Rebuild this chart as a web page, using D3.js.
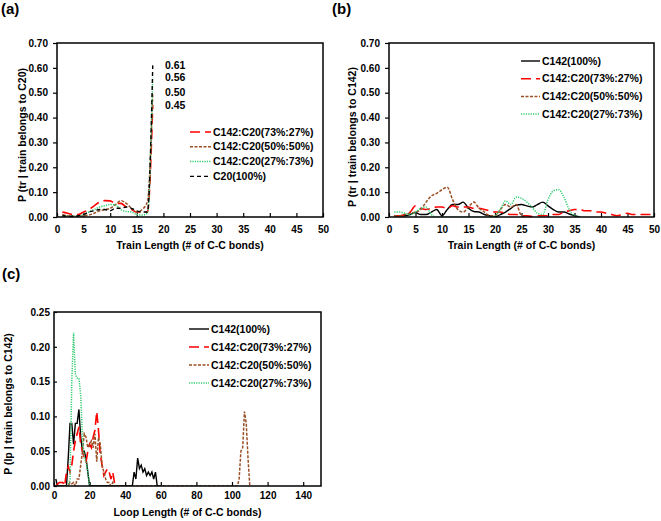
<!DOCTYPE html>
<html><head><meta charset="utf-8">
<script src="https://cdn.jsdelivr.net/npm/d3@7"></script>
<style>
body{margin:0;background:#fff;}
text{font-family:"Liberation Sans",Arial,sans-serif;font-weight:bold;}
</style></head>
<body>
<svg id="chart" width="661" height="521"></svg>
<script>
// ---------- Panel (a) data ----------
const xA = [1,2,3,4,5,6,7,8,9,10,11,12,13,14,15,16,17,18];
const red73A   = [0.02,0.015,0.01,0.01,0.02,0.03,0.045,0.06,0.066,0.065,0.055,0.055,0.04,0.03,0.02,0.02,0.02,0.45];
const brown50A = [0.01,0.005,0.003,0.002,0.005,0.008,0.015,0.025,0.03,0.035,0.05,0.066,0.055,0.035,0.02,0.03,0.062,0.50];
const green27A = [0.005,0.003,0.003,0.005,0.01,0.02,0.03,0.04,0.045,0.05,0.048,0.03,0.022,0.02,0.01,0.008,0.015,0.56];
const black20A = [0.005,0.003,0.003,0.005,0.01,0.02,0.025,0.03,0.03,0.025,0.035,0.035,0.04,0.035,0.025,0.02,0.02,0.61];
const peakLabelsA = [0.61,0.56,0.50,0.45];

// ---------- Panel (b) data ----------
const xB50 = d3.range(1,51);
const black142B = [0.005,0.005,0.005,0.01,0.018,0.01,0.01,0.02,0.03,0.005,
                   0.03,0.05,0.05,0.06,0.035,0.022,0.02,0.01,0.005,0.0,
                   0.01,0.02,0.035,0.048,0.05,0.045,0.04,0.05,0.06,0.045,
                   0.03,0.02,0.02,0.012,0.005,0.0];
const red73B = [0.005,0.005,0.01,0.02,0.045,0.035,0.03,0.035,0.04,0.04,
                0.035,0.045,0.04,0.04,0.04,0.035,0.035,0.03,0.025,0.02,
                0.02,0.015,0.01,0.01,0.005,0.005,0.002,0.005,0.005,0.005,
                0.01,0.01,0.02,0.025,0.03,0.03,0.025,0.025,0.02,0.02,
                0.015,0.01,0.005,0.01,0.015,0.01,0.01,0.01,0.01,0.01];
const brown50B = [0.005,0.005,0.01,0.015,0.02,0.03,0.06,0.085,0.095,0.11,
                  0.12,0.07,0.03,0.02,0.04,0.06,0.035,0.02,0.005,0.005,
                  0.03,0.05,0.04,0.05,0.005,0.0];
const green27B = [0.02,0.02,0.015,0.01,0.02,0.035,0.04,0.01,0.0,0.0,
                  0,0,0,0,0,0,0,0,0,0.005,
                  0.03,0.065,0.05,0.08,0.075,0.06,0.04,0.015,0.01,0.07,
                  0.105,0.11,0.08,0.03,0.005,0.0];

// ---------- Panel (c) data ----------
const blackCx = [1,2,7,8,9,10,11,12,13,14,15,16,17,18,19,20,44,45,46,47,48,49,50,51,52,53,54,55,56,57,58,60];
const blackCy = [0.01,0,0,0.04,0.09,0.09,0.06,0.09,0.09,0.11,0.07,0.05,0.05,0.04,0.02,0,0,0.02,0.01,0.04,0.025,0.03,0.02,0.025,0.015,0.02,0.015,0.02,0.01,0.02,0,0];
const redCx = [1,3,5,6,7,8,9,10,11,12,13,14,15,16,17,18,19,20,21,22,23,24,25,26,27,28,29,30,31,32,33,34,35];
const redCy = [0,0.005,0.005,0,0.02,0.028,0.02,0.03,0.05,0.065,0.075,0.085,0.06,0.05,0.04,0.035,0.05,0.06,0.055,0.07,0.08,0.107,0.08,0.045,0.03,0.015,0.02,0.025,0.02,0.01,0.02,0.005,0];
const brownCx = [1,8,9,10,11,12,13,14,15,16,17,18,19,20,21,22,23,24,25,26,27,28,29,30,31,32,33,34,35,103,104,105,106,107,108,109,110];
const brownCy = [0,0,0.005,0.003,0.005,0,0.01,0.01,0.03,0.05,0.075,0.07,0.055,0.06,0.065,0.055,0.075,0.035,0.07,0.06,0.03,0.02,0.01,0.005,0.005,0,0.005,0,0,0,0.01,0.05,0.055,0.107,0.09,0.04,0];
const greenCx = [1,8,9,10,11,12,13,14,15,16,17,18,19,20];
const greenCy = [0,0,0.01,0.15,0.22,0.16,0.155,0.155,0.13,0.07,0.04,0.035,0.02,0];

// ---------- tick labels ----------
const ticksTrain = [0,5,10,15,20,25,30,35,40,45,50];
const ticksPA = [0,0.1,0.2,0.3,0.4,0.5,0.6,0.7];
const ticksLoop = [0,20,40,60,80,100,120,140];
const ticksPC = [0,0.05,0.1,0.15,0.2,0.25];

// ---------- styles ----------
const ST = {
  black:  {color:"#000", dash:null, w:1.4},
  blackD: {color:"#000", dash:"4,3", w:1.4},
  red:    {color:"#ff0000", dash:"10,5", w:1.6},
  brown:  {color:"#9a4f24", dash:"3,1.5", w:1.5},
  green:  {color:"#2fcc6e", dash:"1.2,1.2", w:1.5}
};

const svg = d3.select("#chart");
const FS = 10.5;

function panel(cfg){
  const g = svg.append("g");
  const x = d3.scaleLinear().domain(cfg.xDomain).range([cfg.l, cfg.r]);
  const y = d3.scaleLinear().domain(cfg.yDomain).range([cfg.b, cfg.t]);

  const xa = d3.axisBottom(x).tickValues(cfg.xTicks).tickSizeInner(-4).tickSizeOuter(0).tickPadding(cfg.xPad).tickFormat(d3.format("d"));
  const ya = d3.axisLeft(y).tickValues(cfg.yTicks).tickSizeInner(cfg.yTick).tickSizeOuter(0).tickPadding(cfg.yPad).tickFormat(d3.format(".2f"));
  const gx = g.append("g").attr("transform",`translate(0,${cfg.b})`).call(xa);
  const gy = g.append("g").attr("transform",`translate(${cfg.l},0)`).call(ya);
  [gx,gy].forEach(a=>{
    a.select(".domain").remove();
    a.selectAll("line").attr("stroke","#000").attr("stroke-width",1.2);
    a.selectAll("text").attr("font-size",10).attr("font-weight","bold").attr("fill","#000")
      .attr("font-family","'Liberation Sans',Arial,sans-serif");
  });

  const clip = "clip"+cfg.id;
  g.append("clipPath").attr("id",clip).append("rect")
    .attr("x",cfg.l).attr("y",cfg.t-2).attr("width",cfg.r-cfg.l).attr("height",cfg.b-cfg.t+2);
  const line = d3.line().x(d=>x(d[0])).y(d=>y(d[1])).curve(cfg.curve);
  cfg.series.forEach(s=>{
    const pts = s.x.map((xv,i)=>[xv,s.y[i]]);
    g.append("path").datum(pts).attr("d",line).attr("fill","none")
      .attr("stroke",s.st.color).attr("stroke-width",s.st.w)
      .attr("stroke-dasharray",s.st.dash).attr("clip-path",`url(#${clip})`);
  });

  g.append("rect").attr("x",cfg.l).attr("y",cfg.t).attr("width",cfg.r-cfg.l).attr("height",cfg.b-cfg.t)
    .attr("fill","none").attr("stroke","#000").attr("stroke-width",1.5);

  cfg.legend.forEach((s,i)=>{
    const yy = cfg.leg.y + i*cfg.leg.dy;
    g.append("line").attr("x1",cfg.leg.x1).attr("x2",cfg.leg.x2).attr("y1",yy).attr("y2",yy)
      .attr("stroke",s.st.color).attr("stroke-width",s.st.w).attr("stroke-dasharray",s.st.dash);
    g.append("text").attr("x",cfg.leg.x2+2).attr("y",yy).attr("dy","0.35em")
      .attr("font-size",FS).text(s.name);
  });

  g.append("text").attr("x",(cfg.l+cfg.r)/2).attr("y",cfg.xTitleY).attr("dy","0.35em")
    .attr("text-anchor","middle").attr("font-size",FS).text(cfg.xTitle);
  g.append("text").attr("transform",`translate(${cfg.yTitleX},${cfg.yTitleY}) rotate(-90)`)
    .attr("dy","0.35em").attr("text-anchor","middle").attr("font-size",FS).text(cfg.yTitle);
  g.append("text").attr("x",cfg.lab[0]).attr("y",cfg.lab[1])
    .attr("font-family","'Liberation Serif','Times New Roman',serif").attr("font-size",15)
    .attr("font-weight","bold").text(cfg.label);
  return {x,y,g};
}

const A = panel({
  id:"a", l:57, r:323, t:43, b:217, xDomain:[0,50], yDomain:[0,0.7],
  xTicks:ticksTrain, yTicks:ticksPA, xPad:9, yTick:4, yPad:5, curve:d3.curveMonotoneX,
  series:[
    {x:xA, y:red73A, st:ST.red},
    {x:xA, y:brown50A, st:ST.brown},
    {x:xA, y:green27A, st:ST.green},
    {x:xA, y:black20A, st:ST.blackD}
  ],
  legend:[
    {name:"C142:C20(73%:27%)", st:ST.red},
    {name:"C142:C20(50%:50%)", st:ST.brown},
    {name:"C142:C20(27%:73%)", st:ST.green},
    {name:"C20(100%)", st:ST.blackD}
  ],
  leg:{x1:190, x2:211, y:132, dy:14.8},
  xTitle:"Train Length (# of C-C bonds)", xTitleY:245,
  yTitle:"P (tr | train belongs to C20)", yTitleX:22, yTitleY:135,
  label:"(a)", lab:[1,14]
});
peakLabelsA.forEach(v=>{
  A.g.append("text").attr("x",A.x(20.3)).attr("y",A.y(v)).attr("dy","0.35em")
    .attr("font-size",FS).text(d3.format(".2f")(v));
});

panel({
  id:"b", l:389, r:654, t:43, b:217, xDomain:[0,50], yDomain:[0,0.7],
  xTicks:ticksTrain, yTicks:ticksPA, xPad:9, yTick:4, yPad:5, curve:d3.curveMonotoneX,
  series:[
    {x:xB50.slice(0,black142B.length), y:black142B, st:ST.black},
    {x:xB50, y:red73B, st:ST.red},
    {x:xB50.slice(0,brown50B.length), y:brown50B, st:ST.brown},
    {x:xB50.slice(0,green27B.length), y:green27B, st:ST.green}
  ],
  legend:[
    {name:"C142(100%)", st:ST.black},
    {name:"C142:C20(73%:27%)", st:ST.red},
    {name:"C142:C20(50%:50%)", st:ST.brown},
    {name:"C142:C20(27%:73%)", st:ST.green}
  ],
  leg:{x1:521, x2:540, y:61, dy:17.7},
  xTitle:"Train Length (# of C-C bonds)", xTitleY:245,
  yTitle:"P (tr | train belongs to C142)", yTitleX:352, yTitleY:137,
  label:"(b)", lab:[332,14]
});

panel({
  id:"c", l:54, r:321, t:312, b:486, xDomain:[0,150], yDomain:[0,0.25],
  xTicks:ticksLoop, yTicks:ticksPC, xPad:6, yTick:-3, yPad:4, curve:d3.curveLinear,
  series:[
    {x:blackCx, y:blackCy, st:ST.black},
    {x:redCx, y:redCy, st:ST.red},
    {x:brownCx, y:brownCy, st:ST.brown},
    {x:greenCx, y:greenCy, st:ST.green}
  ],
  legend:[
    {name:"C142(100%)", st:ST.black},
    {name:"C142:C20(73%:27%)", st:ST.red},
    {name:"C142:C20(50%:50%)", st:ST.brown},
    {name:"C142:C20(27%:73%)", st:ST.green}
  ],
  leg:{x1:189, x2:209, y:329, dy:18},
  xTitle:"Loop Length (# of C-C bonds)", xTitleY:512,
  yTitle:"P (lp | train belongs to C142)", yTitleX:8, yTitleY:404,
  label:"(c)", lab:[2,279]
});
</script>
</body></html>
